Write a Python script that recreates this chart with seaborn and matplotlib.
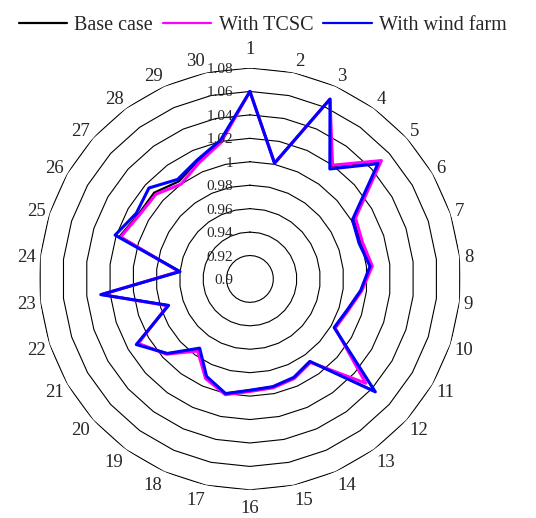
import numpy as np
import pandas as pd
import matplotlib
matplotlib.use("Agg")
import matplotlib.pyplot as plt
from matplotlib.lines import Line2D
from matplotlib.transforms import offset_copy
import seaborn as sns

# Bus voltage magnitudes (p.u.) for the 30-bus system
buses = [str(i) for i in range(1, 31)]
base_case = [1.060, 1.001, 1.068, 1.019, 1.050, 1.003, 1.000, 1.004, 0.995, 0.987,
             0.983, 1.043, 0.987, 0.992, 0.994, 0.995, 1.000, 0.992, 0.974, 0.995,
             1.011, 0.973, 1.027, 0.960, 1.017, 1.010, 1.010, 1.003, 1.010, 1.020]
with_tcsc = [1.060, 1.001, 1.068, 1.020, 1.051, 1.004, 1.001, 1.005, 0.996, 0.988,
             0.984, 1.033, 0.988, 0.993, 0.995, 0.996, 1.001, 0.993, 0.976, 0.996,
             1.010, 0.974, 1.027, 0.961, 1.016, 1.009, 1.008, 1.000, 1.008, 1.019]
with_wind = [1.060, 1.001, 1.068, 1.016, 1.047, 1.001, 0.998, 1.003, 0.995, 0.987,
             0.983, 1.044, 0.987, 0.992, 0.994, 0.995, 1.000, 0.991, 0.973, 0.995,
             1.012, 0.973, 1.028, 0.960, 1.021, 1.012, 1.016, 1.005, 1.011, 1.021]
series_names = ["Base case", "With TCSC", "With wind farm"]
series_colors = ["#000000", "#FF00FF", "#0000FF"]
ring_values = [0.92, 0.94, 0.96, 0.98, 1.00, 1.02, 1.04, 1.06, 1.08]
ring_labels = ["0.9", "0.92", "0.94", "0.96", "0.98", "1", "1.02", "1.04", "1.06", "1.08"]
r_min, r_max = 0.90, 1.08

sns.set_style("white")
plt.rcParams["font.family"] = ["Liberation Serif", "DejaVu Serif"]

fig = plt.figure(figsize=(5.36, 5.18), dpi=100)
ax = fig.add_axes([0.0728, 0.054, 0.787, 0.815], projection="polar")
ax.set_theta_zero_location("N")
ax.set_theta_direction(-1)
ax.set_ylim(r_min, r_max)
ax.grid(False)
ax.spines["polar"].set_visible(False)
ax.set_xticks([])
ax.set_yticks([])

n = len(buses)
theta = np.linspace(0, 2 * np.pi, n, endpoint=False)
theta_closed = np.append(theta, theta[0])

# polygonal rings
for rv in ring_values:
    ax.plot(theta_closed, [rv] * (n + 1), color="black", lw=0.8, zorder=1)

# voltage profiles
widths = [1.6, 2.2, 2.2]
for vals, name, col, lw in zip([base_case, with_tcsc, with_wind], series_names,
                               series_colors, widths):
    df = pd.DataFrame({"theta": theta_closed, "v": np.append(vals, vals[0])})
    sns.lineplot(data=df, x="theta", y="v", ax=ax, sort=False, color=col,
                 lw=lw, zorder=3, estimator=None)
ax.set_xlabel("")
ax.set_ylabel("")

# radial value labels along the top spoke
shift = offset_copy(ax.transData, fig=fig, x=-17, y=0, units="dots")
for rv, lab in zip([r_min] + ring_values, ring_labels):
    ax.text(0, rv, lab, transform=shift, ha="right", va="center_baseline",
            fontsize=11, zorder=4)

# bus numbers around the outside: anchored on a circle just outside the
# outer ring, pushed sideways by half their width on each side of the plot
anchor_px = 215
for t, lab in zip(theta, buses):
    s, c = np.sin(t), np.cos(t)
    if abs(c) > 0.99:
        dx, dy = 0.0, (231 if c > 0 else -228)
    else:
        half_w = 4.7 * len(lab)
        dx = anchor_px * s + np.sign(s) * half_w
        dy = anchor_px * c + 9 * c
    pos = offset_copy(ax.transData, fig=fig, x=dx, y=dy, units="dots")
    ax.text(0, r_min, lab, transform=pos, ha="center", va="center_baseline",
            fontsize=13.5, clip_on=False)

handles = [Line2D([0], [0], color=c, lw=1.6) for c in series_colors]
fig.legend(handles, series_names, loc="upper center", bbox_to_anchor=(0.49, 0.997),
           ncol=3, frameon=False, fontsize=14.5, handlelength=2.4,
           handletextpad=0.35, columnspacing=0.5, borderaxespad=0.3)

fig.savefig("out.png", dpi=100)
